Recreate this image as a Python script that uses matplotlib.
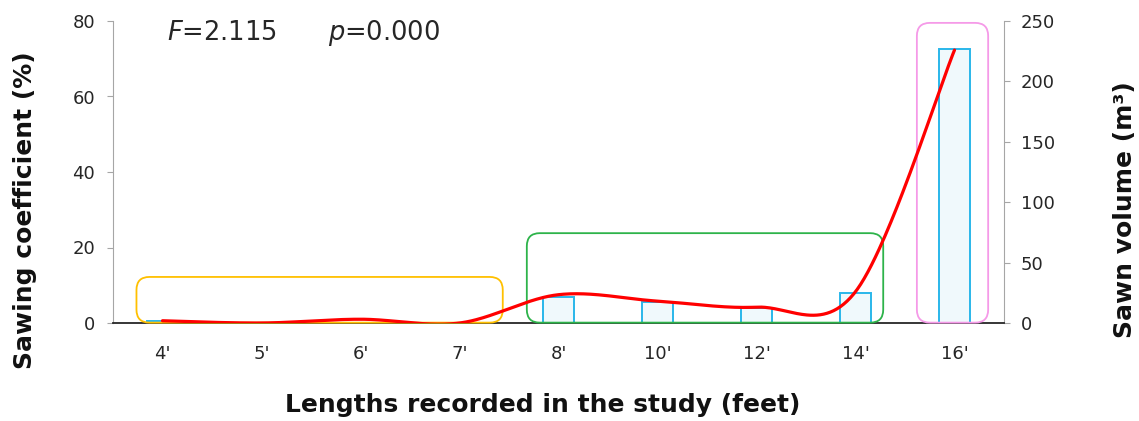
import numpy as np
import matplotlib
matplotlib.use("Agg")
import matplotlib.pyplot as plt
from matplotlib.patches import FancyBboxPatch

categories = ["4'", "5'", "6'", "7'", "8'", "10'", "12'", "14'", "16'"]
sawn_volume = [1.5, 0, 0, 0, 21.5, 17.5, 12.5, 25, 227]
sawing_coef = [0.6, 0.0, 1.0, 0.0, 7.5, 5.8, 4.2, 8.3, 72.3]

plt.rcParams['font.family'] = ['DejaVu Sans']

W, H = 1139, 421
fig = plt.figure(figsize=(W / 100, H / 100), dpi=100)
L, R, B, T = 113, 1004, 323, 21
ax = fig.add_axes([L / W, 1 - B / H, (R - L) / W, (B - T) / H])
ax2 = ax.twinx()

x = np.arange(len(categories))

# bars on right axis
ax2.bar(x, sawn_volume, width=0.31, facecolor='#F0F9FC', edgecolor='#2AB7EA', linewidth=1.4, zorder=2)
ax2.set_ylim(0, 250)
ax2.set_yticks([0, 50, 100, 150, 200, 250])

# Catmull-Rom smooth curve (Excel-like smoothing)
def smooth(xs, ys, n=60):
    xs = np.asarray(xs, float); ys = np.asarray(ys, float)
    P = np.column_stack([xs, ys])
    ext = np.vstack([P[0], P, P[-1]])
    out = []
    for i in range(len(P) - 1):
        p0, p1, p2, p3 = ext[i], ext[i + 1], ext[i + 2], ext[i + 3]
        c1 = p1 + (p2 - p0) / 6.0
        c2 = p2 - (p3 - p1) / 6.0
        t = np.linspace(0, 1, n)[:, None]
        seg = ((1 - t) ** 3) * p1 + 3 * ((1 - t) ** 2) * t * c1 + 3 * (1 - t) * t ** 2 * c2 + t ** 3 * p2
        out.append(seg if i == 0 else seg[1:])
    out = np.vstack(out)
    return out[:, 0], out[:, 1]

sx, sy = smooth(x, sawing_coef)
ax.plot(sx, sy, color='#FF0000', linewidth=2.3, zorder=5, solid_capstyle='round')

ax.set_zorder(ax2.get_zorder() + 1)
ax.patch.set_visible(False)

ax.set_ylim(0, 80)
ax.set_yticks([0, 20, 40, 60, 80])
ax.set_xlim(-0.5, 8.5)
ax.set_xticks(x)
ax.set_xticklabels(categories)

# group boxes
px_x = (R - L) / 9.0
px_y = (B - T) / 80.0
aspect = px_x / px_y
rad = 13 / px_x
boxes = [(-0.263, 0.1, 3.70, 12.1, '#FFC000'),
         (3.68, 0.1, 3.60, 23.7, '#2DB34A'),
         (7.62, 0.1, 0.72, 79.4, '#F59AE8')]
for bx, by, bw, bh, col in boxes:
    p = FancyBboxPatch((bx, by), bw, bh, boxstyle=f"round,pad=0,rounding_size={rad}",
                       mutation_aspect=aspect,
                       fill=False, edgecolor=col, linewidth=1.3, zorder=4, clip_on=False)
    ax.add_patch(p)

# spines
for s in ['top', 'right']:
    ax.spines[s].set_visible(False)
for s in ['top', 'left', 'bottom']:
    ax2.spines[s].set_visible(False)
ax.spines['left'].set_color('#A6A6A6')
ax.spines['bottom'].set_color('#262626')
ax.spines['bottom'].set_linewidth(1.3)
ax2.spines['right'].set_color('#A6A6A6')

ax.tick_params(axis='y', colors='#A6A6A6', labelcolor='#262626', labelsize=13, length=4, pad=9, direction='out')
ax2.tick_params(axis='y', colors='#A6A6A6', labelcolor='#262626', labelsize=13, length=4, pad=8, direction='out')
ax.tick_params(axis='x', length=0, labelsize=13, labelcolor='#262626', pad=16)

fig.text(25 / W, 1 - 210 / H, 'Sawing coefficient (%)', fontsize=18, fontweight='bold',
         rotation=90, ha='center', va='center', color='#111111')
fig.text(543 / W, 1 - 405 / H, 'Lengths recorded in the study (feet)', fontsize=18, fontweight='bold',
         ha='center', va='center', color='#111111')
fig.text(1125 / W, 1 - 210 / H, 'Sawn volume (m³)', fontsize=18, fontweight='bold',
         rotation=90, ha='center', va='center', color='#111111')

fig.text(167 / W, 1 - 33 / H, '$F$=2.115', fontsize=18.5, color='#262626', va='center', ha='left')
fig.text(328 / W, 1 - 33 / H, '$p$=0.000', fontsize=18.5, color='#262626', va='center', ha='left')

fig.savefig('out.png', dpi=100)
